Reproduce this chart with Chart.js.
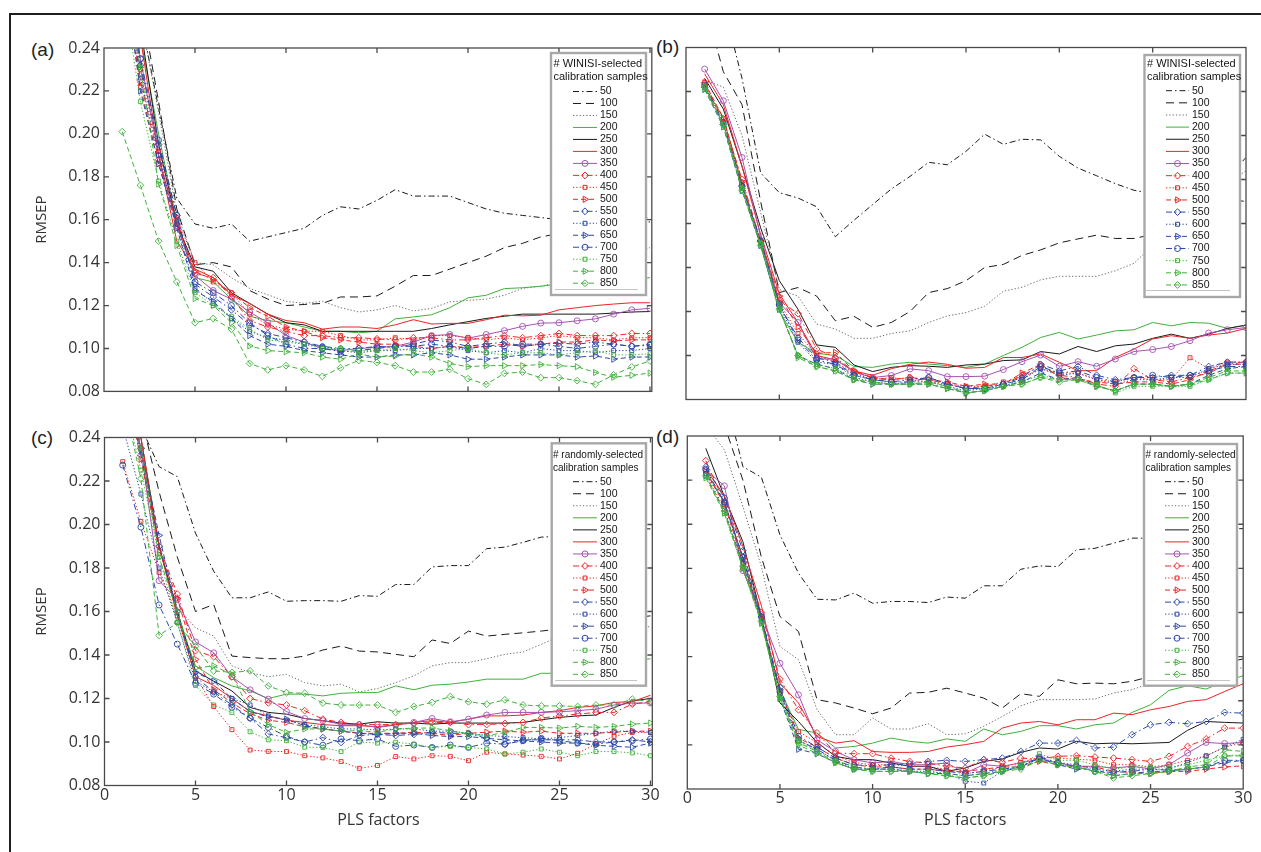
<!DOCTYPE html>
<html>
<head>
<meta charset="utf-8">
<script src="https://cdn.jsdelivr.net/npm/chart.js@4.4.1/dist/chart.umd.min.js"></script>
<style>
  html, body { margin: 0; padding: 0; background: #fff; }
  body { width: 1261px; height: 852px; position: relative; overflow: hidden; }
  #frame { position: absolute; left: 9px; top: 13px; width: 1260px; height: 845px;
           border-top: 2.5px solid #1e1e1e; border-left: 2.5px solid #1e1e1e; }
  .plabel { position: absolute; font-family: "Liberation Sans", Arial, sans-serif; font-size: 19px;
            color: #1e1e1e; line-height: 22px; }
  canvas { position: absolute; }
</style>
</head>
<body>
<div id="frame"></div>
<div class="plabel" style="left:31px;top:39px">(a)</div>
<div class="plabel" style="left:656px;top:36px">(b)</div>
<div class="plabel" style="left:31px;top:427px">(c)</div>
<div class="plabel" style="left:656px;top:426px">(d)</div>
<canvas id="ca" width="640" height="380" style="left:20px;top:25px"></canvas>
<canvas id="cb" width="601" height="380" style="left:660px;top:25px"></canvas>
<canvas id="cc" width="645" height="437" style="left:20px;top:415px"></canvas>
<canvas id="cd" width="601" height="437" style="left:660px;top:415px"></canvas>
<script>
// ---------------- data ----------------
const factors = [1,2,3,4,5,6,7,8,9,10,11,12,13,14,15,16,17,18,19,20,21,22,23,24,25,26,27,28,29,30];
const sampleSizes = ['50','100','150','200','250','300','350','400','450','500','550','600','650','700','750','800','850'];
const xTickValues = [0,5,10,15,20,25,30];
const yTickValues = [0.08,0.10,0.12,0.14,0.16,0.18,0.20,0.22,0.24];

// (a) WINISI-selected
const a50  = [0.330,0.255,0.212,0.170,0.158,0.156,0.158,0.150,0.152,0.154,0.156,0.162,0.166,0.165,0.169,0.174,0.171,0.171,0.171,0.168,0.165,0.163,0.162,0.161,0.160,0.160,0.160,0.160,0.160,0.161];
const a100 = [0.310,0.262,0.215,0.165,0.139,0.140,0.138,0.127,0.123,0.120,0.1205,0.121,0.124,0.124,0.1245,0.129,0.134,0.134,0.137,0.140,0.143,0.147,0.149,0.152,0.1535,0.155,0.156,0.157,0.158,0.159];
const a150 = [0.300,0.255,0.210,0.163,0.140,0.139,0.133,0.128,0.125,0.122,0.121,0.122,0.119,0.117,0.118,0.120,0.1175,0.1187,0.1217,0.1224,0.123,0.1248,0.128,0.129,0.131,0.134,0.137,0.140,0.143,0.147];
const a200 = [0.290,0.245,0.200,0.158,0.133,0.131,0.123,0.115,0.113,0.112,0.110,0.108,0.108,0.1073,0.108,0.1138,0.1147,0.1157,0.119,0.1236,0.1248,0.1279,0.1283,0.129,0.130,0.131,0.131,0.132,0.132,0.133];
const a250 = [0.300,0.250,0.195,0.158,0.138,0.136,0.126,0.121,0.116,0.112,0.111,0.108,0.108,0.108,0.108,0.108,0.108,0.1093,0.111,0.1125,0.114,0.115,0.116,0.116,0.116,0.116,0.116,0.1165,0.117,0.1172];
const a300 = [0.300,0.245,0.190,0.150,0.137,0.133,0.125,0.121,0.116,0.113,0.112,0.109,0.110,0.110,0.1093,0.111,0.1134,0.1114,0.1117,0.1117,0.1134,0.1155,0.1152,0.1155,0.118,0.119,0.120,0.1207,0.1213,0.1213];
const a350 = [0.290,0.235,0.190,0.157,0.134,0.127,0.123,0.117,0.112,0.106,0.103,0.100,0.099,0.100,0.1005,0.101,0.103,0.106,0.1065,0.1048,0.1065,0.1083,0.1103,0.1118,0.112,0.1129,0.1138,0.116,0.118,0.1187];
const a400 = [0.280,0.225,0.188,0.160,0.135,0.133,0.124,0.113,0.110,0.108,0.106,0.106,0.105,0.105,0.1045,0.104,0.105,0.105,0.104,0.104,0.105,0.106,0.105,0.106,0.107,0.106,0.106,0.106,0.107,0.107];
const a450 = [0.285,0.230,0.192,0.161,0.140,0.131,0.126,0.116,0.111,0.109,0.108,0.108,0.106,0.104,0.104,0.105,0.104,0.106,0.106,0.105,0.104,0.105,0.104,0.105,0.106,0.105,0.105,0.104,0.105,0.105];
const a500 = [0.280,0.222,0.186,0.158,0.136,0.132,0.126,0.119,0.115,0.110,0.108,0.105,0.104,0.103,0.102,0.102,0.101,0.100,0.101,0.1005,0.101,0.102,0.101,0.102,0.103,0.103,0.104,0.1035,0.104,0.104];
const a550 = [0.290,0.232,0.195,0.162,0.130,0.124,0.118,0.111,0.107,0.105,0.103,0.101,0.100,0.100,0.101,0.1005,0.102,0.104,0.103,0.101,0.102,0.103,0.101,0.102,0.1025,0.102,0.103,0.102,0.101,0.102];
const a600 = [0.285,0.226,0.190,0.158,0.128,0.121,0.114,0.108,0.105,0.104,0.102,0.101,0.099,0.098,0.099,0.099,0.100,0.100,0.101,0.099,0.098,0.099,0.098,0.100,0.099,0.099,0.098,0.099,0.099,0.100];
const a650 = [0.280,0.220,0.186,0.156,0.127,0.122,0.114,0.106,0.102,0.101,0.099,0.098,0.097,0.096,0.096,0.097,0.097,0.098,0.097,0.095,0.095,0.096,0.097,0.097,0.097,0.096,0.0965,0.095,0.096,0.096];
const a700 = [0.290,0.235,0.197,0.162,0.131,0.126,0.120,0.112,0.106,0.102,0.100,0.100,0.0985,0.099,0.100,0.101,0.101,0.102,0.101,0.100,0.101,0.101,0.102,0.102,0.101,0.100,0.101,0.102,0.101,0.1015];
const a750 = [0.270,0.215,0.178,0.150,0.126,0.120,0.115,0.109,0.104,0.103,0.102,0.100,0.100,0.099,0.099,0.100,0.099,0.098,0.099,0.100,0.098,0.097,0.098,0.098,0.097,0.098,0.099,0.097,0.097,0.0975];
const a800 = [0.280,0.231,0.1766,0.148,0.1233,0.120,0.112,0.1012,0.099,0.0985,0.098,0.096,0.095,0.0974,0.096,0.0965,0.0975,0.096,0.093,0.0915,0.092,0.092,0.092,0.0925,0.092,0.0915,0.0888,0.0866,0.0875,0.0885];
const a850 = [0.201,0.176,0.150,0.131,0.112,0.114,0.109,0.093,0.090,0.092,0.090,0.087,0.091,0.0944,0.0935,0.092,0.089,0.089,0.0903,0.0859,0.0833,0.0884,0.089,0.0864,0.0864,0.085,0.0833,0.0877,0.0914,0.0942];

// (b) WINISI-selected
const b50  = [0.300,0.260,0.226,0.183,0.174,0.1716,0.1676,0.154,0.1615,0.1686,0.1757,0.1814,0.1878,0.1867,0.1928,0.2006,0.196,0.1983,0.198,0.1905,0.1852,0.1817,0.1781,0.1751,0.1736,0.173,0.172,0.171,0.171,0.170];
const b100 = [0.260,0.229,0.214,0.170,0.1286,0.1309,0.127,0.1158,0.1178,0.1128,0.115,0.120,0.1286,0.1304,0.134,0.140,0.1414,0.1455,0.148,0.1512,0.153,0.1547,0.1532,0.1532,0.155,0.160,0.166,0.173,0.181,0.190];
const b150 = [0.2252,0.222,0.200,0.165,0.130,0.127,0.1143,0.112,0.1078,0.1078,0.110,0.1112,0.115,0.118,0.1195,0.1224,0.1292,0.131,0.1344,0.136,0.136,0.136,0.1385,0.1419,0.150,0.157,0.164,0.171,0.178,0.184];
const b200 = [0.222,0.208,0.178,0.150,0.120,0.106,0.101,0.100,0.095,0.0946,0.0961,0.0969,0.0961,0.0954,0.0946,0.0961,0.100,0.1037,0.1082,0.1105,0.1075,0.1093,0.1112,0.1117,0.115,0.1135,0.115,0.1147,0.1123,0.1138];
const b250 = [0.226,0.212,0.186,0.158,0.134,0.121,0.1048,0.1037,0.0957,0.0927,0.0946,0.0954,0.0951,0.0946,0.0957,0.0961,0.0977,0.098,0.1018,0.1007,0.1041,0.1018,0.1044,0.1052,0.1078,0.1097,0.1078,0.1097,0.1123,0.1138];
const b300 = [0.228,0.214,0.186,0.155,0.128,0.115,0.100,0.098,0.093,0.091,0.094,0.096,0.097,0.096,0.0942,0.0946,0.0991,0.0991,0.1007,0.0969,0.0931,0.0931,0.0991,0.1029,0.1075,0.109,0.1078,0.1093,0.1102,0.1123];
const b350 = [0.2302,0.2158,0.190,0.154,0.124,0.115,0.0984,0.0984,0.0924,0.090,0.0909,0.0939,0.0931,0.0904,0.0904,0.0906,0.0936,0.0972,0.1002,0.0951,0.0972,0.0951,0.0984,0.1018,0.1027,0.1041,0.1067,0.1102,0.1117,0.1127];
const b400 = [0.224,0.207,0.180,0.152,0.125,0.119,0.103,0.099,0.093,0.0895,0.089,0.090,0.089,0.087,0.085,0.086,0.087,0.091,0.095,0.091,0.090,0.087,0.086,0.094,0.089,0.088,0.090,0.092,0.096,0.097];
const b450 = [0.223,0.206,0.178,0.151,0.124,0.110,0.100,0.097,0.092,0.089,0.090,0.089,0.088,0.087,0.086,0.086,0.088,0.090,0.094,0.092,0.092,0.089,0.088,0.090,0.089,0.089,0.099,0.094,0.097,0.097];
const b500 = [0.224,0.208,0.179,0.152,0.127,0.113,0.101,0.1014,0.093,0.090,0.089,0.090,0.089,0.088,0.086,0.087,0.087,0.092,0.096,0.090,0.089,0.088,0.087,0.088,0.088,0.087,0.089,0.093,0.096,0.096];
const b550 = [0.222,0.205,0.177,0.152,0.123,0.108,0.099,0.097,0.091,0.089,0.088,0.089,0.090,0.087,0.085,0.085,0.087,0.090,0.096,0.093,0.095,0.091,0.089,0.090,0.090,0.091,0.091,0.095,0.097,0.097];
const b600 = [0.222,0.205,0.176,0.151,0.122,0.106,0.097,0.096,0.090,0.088,0.087,0.088,0.088,0.086,0.084,0.085,0.086,0.089,0.094,0.091,0.092,0.089,0.087,0.089,0.089,0.090,0.090,0.094,0.096,0.096];
const b650 = [0.221,0.204,0.175,0.150,0.121,0.100,0.096,0.094,0.089,0.087,0.087,0.087,0.087,0.085,0.083,0.084,0.086,0.088,0.092,0.089,0.090,0.086,0.084,0.087,0.087,0.086,0.087,0.091,0.094,0.095];
const b700 = [0.223,0.206,0.177,0.152,0.123,0.107,0.098,0.096,0.091,0.089,0.088,0.088,0.090,0.087,0.085,0.085,0.087,0.089,0.095,0.092,0.093,0.090,0.088,0.090,0.091,0.090,0.091,0.093,0.095,0.095];
const b750 = [0.222,0.205,0.176,0.151,0.121,0.100,0.096,0.094,0.090,0.088,0.087,0.087,0.087,0.085,0.084,0.085,0.086,0.088,0.091,0.089,0.089,0.087,0.083,0.086,0.086,0.086,0.086,0.089,0.092,0.092];
const b800 = [0.221,0.204,0.176,0.151,0.122,0.099,0.095,0.093,0.089,0.087,0.087,0.087,0.087,0.085,0.083,0.084,0.086,0.087,0.090,0.089,0.089,0.086,0.084,0.087,0.087,0.086,0.087,0.089,0.092,0.092];
const b850 = [0.222,0.205,0.175,0.150,0.121,0.100,0.095,0.093,0.089,0.088,0.087,0.087,0.088,0.086,0.083,0.084,0.086,0.087,0.090,0.088,0.089,0.086,0.084,0.087,0.087,0.086,0.087,0.090,0.093,0.093];

// (c) randomly-selected
const c50  = [0.300,0.245,0.2266,0.222,0.196,0.1785,0.1663,0.1663,0.169,0.1647,0.165,0.165,0.1647,0.1673,0.167,0.1724,0.1724,0.1805,0.1811,0.1811,0.1889,0.1896,0.1918,0.1942,0.1945,0.196,0.197,0.197,0.198,0.198];
const c100 = [0.290,0.250,0.215,0.185,0.160,0.1632,0.1395,0.1388,0.1383,0.1383,0.1395,0.1423,0.1441,0.1418,0.1414,0.1403,0.1392,0.1469,0.1453,0.151,0.1487,0.1495,0.1502,0.151,0.152,0.153,0.154,0.155,0.157,0.158];
const c150 = [0.270,0.235,0.190,0.162,0.1525,0.1487,0.135,0.1319,0.130,0.1311,0.1273,0.1258,0.1266,0.123,0.1246,0.1273,0.1304,0.135,0.1365,0.1365,0.1383,0.1403,0.1414,0.1449,0.1487,0.150,0.151,0.152,0.153,0.153];
const c200 = [0.270,0.235,0.190,0.158,0.135,0.1296,0.1258,0.1235,0.120,0.122,0.122,0.1212,0.1224,0.1227,0.1227,0.1258,0.124,0.1261,0.1266,0.1276,0.1289,0.1289,0.1289,0.1316,0.1316,0.133,0.134,0.135,0.137,0.1383];
const c250 = [0.280,0.240,0.190,0.160,0.1327,0.128,0.1235,0.1159,0.1136,0.1128,0.1108,0.1098,0.1087,0.1082,0.1093,0.1087,0.1087,0.1082,0.1087,0.1087,0.1087,0.1087,0.109,0.1102,0.1113,0.112,0.1124,0.1159,0.1189,0.120];
const c300 = [0.280,0.240,0.190,0.158,0.130,0.126,0.120,0.114,0.112,0.110,0.109,0.108,0.1075,0.1075,0.107,0.108,0.109,0.1098,0.109,0.1105,0.112,0.112,0.1124,0.1136,0.1144,0.1159,0.1166,0.1182,0.1185,0.1215];
const c350 = [0.270,0.235,0.1742,0.1655,0.146,0.141,0.130,0.124,0.1197,0.114,0.1108,0.1098,0.1082,0.108,0.1067,0.1078,0.109,0.1108,0.1093,0.1105,0.1124,0.1136,0.1136,0.1136,0.1139,0.1144,0.1151,0.117,0.1179,0.1179];
const c400 = [0.270,0.235,0.190,0.168,0.142,0.1392,0.130,0.120,0.118,0.117,0.1144,0.1105,0.109,0.108,0.108,0.108,0.1085,0.109,0.109,0.108,0.108,0.1085,0.109,0.111,0.112,0.1128,0.1136,0.1136,0.1174,0.1185];
const c450 = [0.2289,0.2014,0.178,0.158,0.130,0.1163,0.1057,0.0963,0.0957,0.0956,0.0937,0.0927,0.091,0.0879,0.0892,0.0933,0.0922,0.0937,0.0934,0.0914,0.0953,0.0945,0.094,0.0934,0.0922,0.0948,0.0991,0.1026,0.1044,0.1044];
const c500 = [0.270,0.230,0.188,0.166,0.138,0.124,0.118,0.113,0.110,0.109,0.107,0.106,0.105,0.104,0.104,0.104,0.1045,0.104,0.103,0.104,0.1045,0.105,0.1045,0.105,0.104,0.104,0.104,0.1045,0.105,0.105];
const c550 = [0.270,0.232,0.190,0.160,0.130,0.123,0.117,0.111,0.1037,0.102,0.100,0.102,0.0998,0.103,0.1035,0.103,0.1035,0.1045,0.104,0.104,0.1017,0.099,0.101,0.101,0.101,0.101,0.100,0.100,0.101,0.100];
const c600 = [0.245,0.214,0.180,0.155,0.128,0.123,0.120,0.117,0.112,0.110,0.108,0.107,0.106,0.106,0.1055,0.106,0.106,0.105,0.105,0.104,0.103,0.1025,0.102,0.1015,0.102,0.103,0.104,0.105,0.105,0.1044];
const c650 = [0.280,0.235,0.195,0.160,0.132,0.128,0.120,0.114,0.1115,0.1105,0.1075,0.106,0.105,0.104,0.1035,0.104,0.104,0.103,0.1025,0.1025,0.1017,0.101,0.1005,0.100,0.0995,0.0995,0.0985,0.098,0.0976,0.0995];
const c700 = [0.2273,0.1988,0.163,0.145,0.127,0.122,0.116,0.111,0.1067,0.1026,0.100,0.0985,0.1014,0.1006,0.1014,0.098,0.0986,0.0975,0.0986,0.0975,0.0995,0.099,0.1006,0.1017,0.1006,0.0995,0.099,0.100,0.1006,0.1014];
const c750 = [0.260,0.225,0.185,0.155,0.126,0.117,0.1136,0.1047,0.101,0.1006,0.0976,0.0975,0.0956,0.100,0.0995,0.0999,0.099,0.0975,0.098,0.0975,0.0968,0.0945,0.0953,0.0968,0.0953,0.0937,0.0956,0.0956,0.095,0.0937];
const c800 = [0.280,0.235,0.185,0.160,0.134,0.135,0.131,0.114,0.108,0.1044,0.106,0.106,0.105,0.1052,0.1045,0.106,0.1064,0.1064,0.1052,0.1037,0.1029,0.1044,0.1067,0.1067,0.1064,0.1072,0.1067,0.1072,0.1082,0.1087];
const c850 = [0.260,0.221,0.149,0.1548,0.144,0.1327,0.132,0.1327,0.1258,0.1227,0.1224,0.1179,0.117,0.117,0.117,0.1136,0.1163,0.1182,0.1209,0.1185,0.1174,0.1194,0.117,0.1166,0.1166,0.1163,0.117,0.117,0.1197,0.1185];

// (d) randomly-selected
const d50  = [0.300,0.260,0.2261,0.2213,0.1952,0.1778,0.166,0.1657,0.1688,0.1642,0.165,0.165,0.1645,0.167,0.1665,0.1721,0.1721,0.1796,0.1811,0.1808,0.1884,0.1891,0.1914,0.1937,0.1937,0.195,0.196,0.197,0.198,0.198];
const d100 = [0.280,0.245,0.220,0.185,0.1582,0.1514,0.1205,0.119,0.1167,0.1141,0.1167,0.1235,0.1238,0.1257,0.1235,0.1212,0.1167,0.1232,0.122,0.1295,0.1277,0.128,0.1277,0.1288,0.131,0.132,0.133,0.135,0.137,0.139];
const d150 = [0.245,0.2337,0.208,0.1808,0.1446,0.1386,0.116,0.1046,0.1046,0.1122,0.1072,0.1072,0.1096,0.1046,0.105,0.1084,0.1129,0.1177,0.1205,0.1205,0.1205,0.1208,0.1235,0.125,0.128,0.130,0.131,0.132,0.134,0.135];
const d200 = [0.224,0.210,0.185,0.155,0.125,0.107,0.1054,0.0986,0.0993,0.1008,0.1031,0.1016,0.1008,0.1027,0.1016,0.1072,0.1046,0.1061,0.1087,0.1087,0.1072,0.1091,0.1099,0.1147,0.1182,0.1247,0.1268,0.1253,0.1288,0.1313];
const d250 = [0.2344,0.2125,0.1921,0.158,0.119,0.1106,0.1011,0.0948,0.0933,0.0933,0.0918,0.0903,0.0903,0.088,0.0895,0.0925,0.0936,0.0966,0.0986,0.0981,0.1016,0.1005,0.1008,0.1005,0.1008,0.1011,0.1066,0.1106,0.1102,0.1099];
const d300 = [0.225,0.213,0.190,0.163,0.128,0.119,0.1038,0.1008,0.1019,0.097,0.0966,0.0966,0.097,0.099,0.1001,0.1016,0.1076,0.1099,0.1106,0.1091,0.1114,0.1114,0.1144,0.1137,0.1159,0.1174,0.1197,0.1205,0.1242,0.1277];
const d350 = [0.2246,0.2174,0.179,0.159,0.137,0.1227,0.1023,0.097,0.0933,0.0918,0.0925,0.091,0.091,0.0918,0.0872,0.091,0.0903,0.0918,0.0936,0.0918,0.0903,0.0903,0.0895,0.0903,0.0891,0.091,0.0963,0.1011,0.1006,0.1011];
const d400 = [0.2288,0.210,0.185,0.160,0.1298,0.1159,0.1054,0.0963,0.096,0.096,0.094,0.0925,0.0918,0.0903,0.0895,0.0933,0.0921,0.094,0.0936,0.0948,0.0951,0.0945,0.094,0.0933,0.0925,0.0948,0.0993,0.1027,0.1076,0.1076];
const d450 = [0.223,0.207,0.180,0.156,0.124,0.106,0.101,0.095,0.092,0.091,0.091,0.0905,0.090,0.089,0.087,0.088,0.090,0.092,0.0945,0.094,0.0935,0.093,0.091,0.091,0.090,0.091,0.093,0.095,0.099,0.101];
const d500 = [0.224,0.209,0.183,0.157,0.125,0.103,0.099,0.094,0.091,0.090,0.090,0.089,0.089,0.088,0.088,0.089,0.090,0.090,0.0925,0.091,0.090,0.090,0.088,0.0875,0.087,0.088,0.088,0.089,0.090,0.0905];
const d550 = [0.226,0.212,0.188,0.158,0.126,0.104,0.099,0.094,0.091,0.0905,0.091,0.0915,0.0925,0.093,0.0925,0.0933,0.094,0.097,0.1008,0.1008,0.102,0.0986,0.099,0.1046,0.1091,0.1102,0.1096,0.1106,0.1147,0.1144];
const d600 = [0.223,0.210,0.184,0.157,0.123,0.102,0.098,0.093,0.089,0.089,0.089,0.088,0.088,0.087,0.0835,0.0827,0.088,0.0905,0.094,0.092,0.091,0.089,0.088,0.089,0.089,0.089,0.092,0.095,0.099,0.1025];
const d650 = [0.222,0.206,0.182,0.156,0.121,0.098,0.096,0.092,0.089,0.089,0.089,0.088,0.087,0.087,0.086,0.087,0.088,0.090,0.094,0.091,0.089,0.089,0.086,0.087,0.088,0.088,0.089,0.090,0.092,0.093];
const d700 = [0.225,0.210,0.185,0.158,0.124,0.102,0.098,0.093,0.090,0.089,0.090,0.089,0.089,0.088,0.087,0.088,0.089,0.090,0.0945,0.092,0.090,0.088,0.0875,0.088,0.089,0.0885,0.089,0.090,0.093,0.093];
const d750 = [0.222,0.205,0.180,0.155,0.121,0.102,0.097,0.093,0.090,0.089,0.089,0.088,0.088,0.087,0.086,0.087,0.089,0.091,0.096,0.093,0.093,0.091,0.089,0.090,0.090,0.090,0.091,0.093,0.095,0.0955];
const d800 = [0.221,0.205,0.180,0.155,0.121,0.100,0.096,0.092,0.089,0.088,0.088,0.088,0.087,0.086,0.085,0.086,0.088,0.090,0.093,0.091,0.090,0.088,0.086,0.087,0.087,0.088,0.090,0.091,0.0978,0.097];
const d850 = [0.222,0.206,0.181,0.156,0.122,0.101,0.097,0.092,0.089,0.088,0.088,0.088,0.087,0.086,0.085,0.086,0.088,0.089,0.093,0.091,0.090,0.088,0.085,0.086,0.087,0.088,0.089,0.090,0.095,0.095];

const panelA = [a50,a100,a150,a200,a250,a300,a350,a400,a450,a500,a550,a600,a650,a700,a750,a800,a850];
const panelB = [b50,b100,b150,b200,b250,b300,b350,b400,b450,b500,b550,b600,b650,b700,b750,b800,b850];
const panelC = [c50,c100,c150,c200,c250,c300,c350,c400,c450,c500,c550,c600,c650,c700,c750,c800,c850];
const panelD = [d50,d100,d150,d200,d250,d300,d350,d400,d450,d500,d550,d600,d650,d700,d750,d800,d850];

// ---------------- styles ----------------
const BLK = '#1a1a1a', GRY = '#6e6e6e', GRN = '#3fb23a', RED = '#ee2424', PUR = '#a452b4', BLU = '#2b4aa6';
const DASHDOT = [6,3,1.5,3], DASH = [8,5], DASHM = [5,3], DOT = [1.3,2], SOLID = [];
const STY = [
  {c:BLK, d:DASHDOT}, {c:BLK, d:DASH}, {c:GRY, d:DOT}, {c:GRN, d:SOLID}, {c:BLK, d:SOLID}, {c:RED, d:SOLID},
  {c:PUR, d:SOLID, p:'circle', r:3},
  {c:RED, d:DASHDOT, p:'rectRot', r:3.4},
  {c:RED, d:DOT, p:'rect', r:2.8},
  {c:RED, d:DASHM, p:'triangle', r:3.6, rot:90},
  {c:BLU, d:DASHDOT, p:'rectRot', r:3.4},
  {c:BLU, d:DOT, p:'rect', r:2.8},
  {c:BLU, d:DASHM, p:'triangle', r:3.6, rot:90},
  {c:BLU, d:DASHDOT, p:'circle', r:3},
  {c:GRN, d:DOT, p:'rect', r:2.8},
  {c:GRN, d:DASHM, p:'triangle', r:3.6, rot:90},
  {c:GRN, d:DASHM, p:'rectRot', r:3.4}
];
const AXIS_FONT = '"Open Sans", "DejaVu Sans", sans-serif';
const LEG_FONT = '"Liberation Sans", Arial, sans-serif';

// MATLAB-like box with inward ticks on all four sides
const boxPlugin = {
  id: 'matBox',
  afterDatasetsDraw(chart) {
    const {ctx, chartArea: ca, scales: {x, y}} = chart;
    ctx.save();
    ctx.setLineDash([]);
    ctx.strokeStyle = '#4a4a4a';
    ctx.lineWidth = 1.3;
    ctx.strokeRect(ca.left, ca.top, ca.right - ca.left, ca.bottom - ca.top);
    ctx.beginPath();
    xTickValues.forEach(v => {
      const px = x.getPixelForValue(v);
      if (px <= ca.left + 1 || px >= ca.right - 1) return;
      ctx.moveTo(px, ca.bottom); ctx.lineTo(px, ca.bottom - 5);
      ctx.moveTo(px, ca.top); ctx.lineTo(px, ca.top + 5);
    });
    yTickValues.forEach(v => {
      const py = y.getPixelForValue(v);
      if (py <= ca.top + 1 || py >= ca.bottom - 1) return;
      ctx.moveTo(ca.left, py); ctx.lineTo(ca.left + 5, py);
      ctx.moveTo(ca.right, py); ctx.lineTo(ca.right - 5, py);
    });
    ctx.stroke();
    ctx.restore();
  }
};

// legend drawn inside the axes (top right), like MATLAB
const legendPlugin = {
  id: 'boxLegend',
  afterDraw(chart, args, o) {
    if (!o || !o.box) return;
    const ctx = chart.ctx;
    const ox = o.ox, oy = o.oy, L = o.box;
    ctx.save();
    ctx.setLineDash([]);
    ctx.fillStyle = '#ffffff';
    ctx.fillRect(L.left - ox, L.top - oy, L.right - L.left, L.bottom - L.top);
    ctx.strokeStyle = '#a8a8a8';
    ctx.lineWidth = 2.4;
    ctx.strokeRect(L.left - ox, L.top - oy, L.right - L.left, L.bottom - L.top);
    ctx.textBaseline = 'middle';
    ctx.textAlign = 'left';
    ctx.fillStyle = '#151515';
    ctx.font = o.titleSize + 'px ' + LEG_FONT;
    o.title.forEach((t, i) => ctx.fillText(t, L.titleX - ox, L.titleY[i] - oy));
    chart.data.datasets.forEach((ds, i) => {
      const yy = L.rowY0 + i * L.rowDy - oy;
      ctx.strokeStyle = ds.borderColor;
      ctx.lineWidth = 1;
      ctx.setLineDash(ds.borderDash || []);
      ctx.beginPath();
      ctx.moveTo(L.lineX0 - ox, yy); ctx.lineTo(L.lineX1 - ox, yy);
      ctx.stroke();
      ctx.setLineDash([]);
      if (ds.pointRadius > 0) {
        ctx.fillStyle = 'rgba(0,0,0,0)';
        ctx.strokeStyle = ds.borderColor;
        ctx.lineWidth = 1;
        Chart.helpers.drawPoint(ctx, {pointStyle: ds.pointStyle, rotation: ds.pointRotation || 0,
          radius: ds.pointRadius, borderWidth: 1}, (L.lineX0 + L.lineX1) / 2 - ox, yy);
      }
      ctx.fillStyle = '#151515';
      ctx.font = o.entrySize + 'px ' + LEG_FONT;
      ctx.fillText(ds.label, L.textX - ox, yy);
    });
    ctx.strokeStyle = '#c4c4c4';
    ctx.lineWidth = 1;
    ctx.beginPath();
    ctx.moveTo(L.sepX0 - ox, L.sepY - oy); ctx.lineTo(L.sepX1 - ox, L.sepY - oy);
    ctx.stroke();
    ctx.restore();
  }
};

function makeChart(id, series, cfg) {
  const datasets = series.map((data, i) => {
    const s = STY[i];
    return {
      label: sampleSizes[i], data,
      borderColor: s.c, borderWidth: 1, borderDash: s.d,
      pointStyle: s.p || 'circle', pointRadius: s.p ? s.r : 0,
      pointBorderColor: s.c, pointBackgroundColor: 'rgba(0,0,0,0)', pointBorderWidth: 0.9,
      pointRotation: s.rot || 0, tension: 0, fill: false, order: 16 - i
    };
  });
  new Chart(document.getElementById(id), {
    type: 'line',
    data: {labels: factors, datasets},
    options: {
      responsive: false, animation: false, devicePixelRatio: 1,
      events: [],
      layout: {padding: {top: cfg.padTop, right: cfg.padRight, left: 0, bottom: 0}},
      plugins: {
        legend: {display: false}, tooltip: {enabled: false},
        boxLegend: {box: cfg.legend, ox: cfg.ox, oy: cfg.oy, title: cfg.legendTitle,
                    titleSize: cfg.titleSize, entrySize: 10.5}
      },
      scales: {
        x: {
          type: 'linear', min: 0, max: cfg.xMax,
          grid: {display: false, drawTicks: false}, border: {display: false},
          afterBuildTicks: s => { s.ticks = xTickValues.map(v => ({value: v})); },
          afterFit: s => { s.height = cfg.xH; },
          ticks: {display: cfg.xLabels, padding: 0, autoSkip: false, maxRotation: 0,
                  font: {family: AXIS_FONT, size: 16}, color: '#333'},
          title: {display: cfg.xLabels, text: 'PLS factors', color: '#333',
                  font: {family: AXIS_FONT, size: 16}, padding: {top: 0, bottom: 22}}
        },
        y: {
          type: 'linear', min: 0.08, max: 0.24,
          grid: {display: false, drawTicks: false}, border: {display: false},
          afterBuildTicks: s => { s.ticks = yTickValues.map(v => ({value: v})); },
          afterFit: s => { s.width = cfg.yW; },
          ticks: {display: cfg.yLabels, padding: 4, font: {family: AXIS_FONT, size: 16}, color: '#333',
                  callback: v => Number(v).toFixed(2)},
          title: {display: cfg.yLabels, text: 'RMSEP', color: '#333',
                  font: {family: AXIS_FONT, size: 15}, padding: {top: 12.7, bottom: 0}}
        }
      }
    },
    plugins: [boxPlugin, legendPlugin]
  });
}

const TITLE_W = ['# WINISI-selected', 'calibration samples'];
const TITLE_R = ['# randomly-selected', 'calibration samples'];

makeChart('ca', panelA, {ox: 20, oy: 25, padTop: 23, padRight: 8.2, yW: 84, xH: 7, xMax: 30.1,
  xLabels: false, yLabels: true, legendTitle: TITLE_W, titleSize: 11,
  legend: {left: 551, top: 53, right: 646, bottom: 295, titleX: 553.5, titleY: [63.5, 77],
           rowY0: 91.5, rowDy: 11.98, lineX0: 573, lineX1: 597, textX: 600,
           sepY: 289.5, sepX0: 555, sepX1: 638}});
makeChart('cb', panelB, {ox: 660, oy: 25, padTop: 22.5, padRight: 15, yW: 26, xH: 5.5, xMax: 30,
  xLabels: false, yLabels: false, legendTitle: TITLE_W, titleSize: 11,
  legend: {left: 1144.5, top: 55, right: 1240, bottom: 297, titleX: 1147, titleY: [64, 77],
           rowY0: 90.7, rowDy: 12.14, lineX0: 1166, lineX1: 1189, textX: 1192,
           sepY: 290.5, sepX0: 1145, sepX1: 1230}});
makeChart('cc', panelC, {ox: 20, oy: 415, padTop: 22.5, padRight: 12.7, yW: 84.5, xH: 66.5, xMax: 30.1,
  xLabels: true, yLabels: true, legendTitle: TITLE_R, titleSize: 10,
  legend: {left: 551.7, top: 443.3, right: 646, bottom: 685.7, titleX: 553, titleY: [455, 468.5],
           rowY0: 481.7, rowDy: 12.04, lineX0: 573, lineX1: 597, textX: 600,
           sepY: 680.5, sepX0: 555, sepX1: 637}});
makeChart('cd', panelD, {ox: 660, oy: 415, padTop: 21, padRight: 17.8, yW: 27.3, xH: 63, xMax: 30,
  xLabels: true, yLabels: false, legendTitle: TITLE_R, titleSize: 10,
  legend: {left: 1144, top: 444, right: 1237, bottom: 685.7, titleX: 1145.5, titleY: [455.5, 468.5],
           rowY0: 481.7, rowDy: 12.04, lineX0: 1165, lineX1: 1189, textX: 1192,
           sepY: 680.5, sepX0: 1147, sepX1: 1230}});
</script>
</body>
</html>
